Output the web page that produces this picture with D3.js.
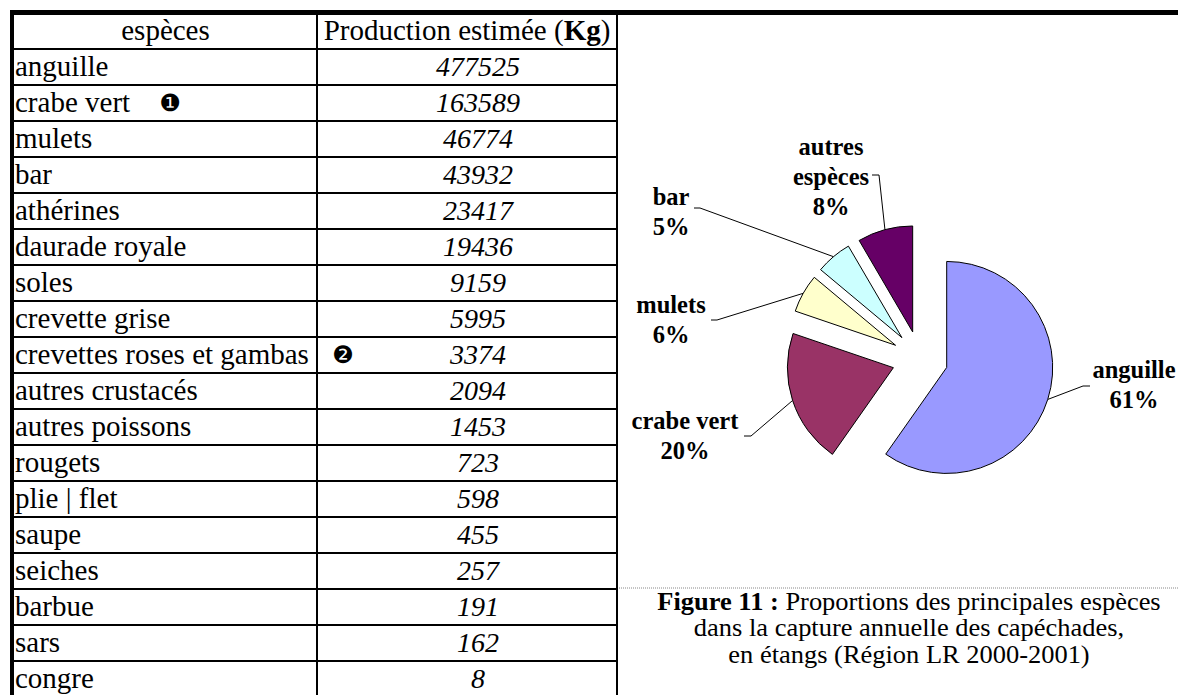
<!DOCTYPE html>
<html>
<head>
<meta charset="utf-8">
<script src="https://cdn.jsdelivr.net/npm/d3@7"></script>
<style>
  body { margin: 0; background: #fff; }
  svg { display: block; }
  text { font-family: "Liberation Serif", "Times New Roman", serif; fill: #000; }
</style>
</head>
<body>
<svg id="fig"></svg>
<script>
// table data
var species = ["anguille", "crabe vert", "mulets", "bar", "athérines", "daurade royale",
    "soles", "crevette grise", "crevettes roses et gambas", "autres crustacés",
    "autres poissons", "rougets", "plie | flet", "saupe", "seiches", "barbue", "sars", "congre"];
var production = [477525, 163589, 46774, 43932, 23417, 19436, 9159, 5995, 3374,
    2094, 1453, 723, 598, 455, 257, 191, 162, 8];
var notes = { "crabe vert": "\u2776", "crevettes roses et gambas": "\u2777" };

// pie: main species, everything else grouped
var pieSpecies = ["anguille", "crabe vert", "mulets", "bar"];
var otherLabel = "autres espèces";
var pieTexts = {
    "anguille": ["anguille", "61%"],
    "crabe vert": ["crabe vert", "20%"],
    "mulets": ["mulets", "6%"],
    "bar": ["bar", "5%"],
    "autres espèces": ["autres", "espèces", "8%"]
};
var pieColors = ["#9999FF", "#993366", "#FFFFCC", "#CCFFFF", "#660066"];

var captionBold = "Figure 11 :";
var captionLines = [" Proportions des principales espèces",
    "dans la capture annuelle des capéchades,",
    "en étangs (Région LR 2000-2001)"];

var W = 1178, H = 695;
var svg = d3.select("#fig").attr("width", W).attr("height", H);

// ---------- table ----------
var tblLeft = 14, col1 = 317, tblRight = 617, headTop = 15, headBottom = 49, rowH = 36;
var y = d3.scaleBand().domain(species).range([headBottom, headBottom + species.length * rowH]);

var tbl = svg.append("g").attr("class", "table");

tbl.append("text").attr("x", (tblLeft + col1) / 2).attr("y", 40)
    .attr("text-anchor", "middle").attr("font-size", 29).text("espèces");
var h2 = tbl.append("text").attr("x", (col1 + tblRight) / 2).attr("y", 40)
    .attr("text-anchor", "middle").attr("font-size", 29);
h2.append("tspan").text("Production estimée (");
h2.append("tspan").attr("font-weight", "bold").text("Kg");
h2.append("tspan").text(")");

var rows = tbl.selectAll("g.row")
    .data(species.map(function (s, i) { return { name: s, value: production[i] }; }))
    .enter().append("g").attr("class", "row");

rows.append("text")
    .attr("x", tblLeft + 1)
    .attr("y", function (d) { return y(d.name) + 27; })
    .attr("font-size", 29)
    .text(function (d) { return d.name; });

rows.append("text")
    .attr("x", 478)
    .attr("y", function (d) { return y(d.name) + 27; })
    .attr("text-anchor", "middle")
    .attr("font-size", 28).attr("font-style", "italic")
    .text(function (d) { return d.value; });

var noteX = { "crabe vert": 170, "crevettes roses et gambas": 343 };
rows.filter(function (d) { return notes[d.name]; })
    .append("text")
    .attr("x", function (d) { return noteX[d.name]; })
    .attr("y", function (d) { return y(d.name) + y.bandwidth() / 2 + 8; })
    .attr("text-anchor", "middle")
    .style("font-family", "DejaVu Sans")
    .attr("font-size", 24)
    .text(function (d) { return notes[d.name]; });

// grid lines
tbl.selectAll("line.hrow")
    .data([headBottom].concat(species.map(function (s) { return y(s) + rowH; })))
    .enter().append("line")
    .attr("x1", tblLeft).attr("x2", tblRight)
    .attr("y1", function (d) { return d; }).attr("y2", function (d) { return d; })
    .attr("stroke", "#000").attr("stroke-width", 2);

[col1, tblRight].forEach(function (x) {
    tbl.append("line").attr("x1", x).attr("x2", x).attr("y1", headTop).attr("y2", H)
        .attr("stroke", "#000").attr("stroke-width", 2);
});
tbl.append("rect").attr("x", 10).attr("y", 10).attr("width", 4).attr("height", H - 10).attr("fill", "#000");
tbl.append("rect").attr("x", 10).attr("y", 10).attr("width", W - 10).attr("height", 5).attr("fill", "#000");

// ---------- pie ----------
var total = d3.sum(production);
var pieData = pieSpecies.map(function (s) { return { name: s, value: production[species.indexOf(s)] }; });
pieData.push({ name: otherLabel, value: total - d3.sum(pieData, function (d) { return d.value; }) });

var cx = 920, cy = 359, R = 106, explode = 28;
var arcs = d3.pie().sort(null).value(function (d) { return d.value; })(pieData);
var arc = d3.arc().innerRadius(0).outerRadius(R);
var color = d3.scaleOrdinal().domain(pieData.map(function (d) { return d.name; })).range(pieColors);

function mid(d) { return (d.startAngle + d.endAngle) / 2; }
function apex(d) {
    var a = mid(d);
    return [cx + explode * Math.sin(a), cy - explode * Math.cos(a)];
}

var pie = svg.append("g").attr("class", "pie");
pie.selectAll("path")
    .data(arcs)
    .enter().append("path")
    .attr("transform", function (d) { return "translate(" + apex(d) + ")"; })
    .attr("d", arc)
    .attr("fill", function (d) { return color(d.data.name); })
    .attr("stroke", "#000").attr("stroke-width", 1);

// label placement (layout only)
var labelPos = {
    "anguille": { x: 1134, y: 378, lead: [[1090, 386], [1083, 386]] },
    "crabe vert": { x: 685, y: 429, lead: [[744, 436], [751, 436]] },
    "mulets": { x: 671, y: 313, lead: [[711, 320], [717, 320]] },
    "bar": { x: 671, y: 205, lead: [[694, 208], [700, 208]] },
    "autres espèces": { x: 831, y: 155, lead: [[872, 175], [879, 175]] }
};

var labels = pie.selectAll("g.lbl").data(arcs).enter().append("g").attr("class", "lbl");
labels.append("polyline")
    .attr("fill", "none").attr("stroke", "#000").attr("stroke-width", 1)
    .attr("points", function (d) {
        var a = mid(d), p = apex(d);
        var end = [p[0] + R * Math.sin(a), p[1] - R * Math.cos(a)];
        return labelPos[d.data.name].lead.concat([end]).join(" ");
    });
labels.append("text")
    .attr("text-anchor", "middle")
    .attr("font-size", 24.5).attr("font-weight", "bold")
    .selectAll("tspan")
    .data(function (d) {
        var p = labelPos[d.data.name];
        return pieTexts[d.data.name].map(function (t, i) { return { t: t, x: p.x, y: p.y + i * 30 }; });
    })
    .enter().append("tspan")
    .attr("x", function (d) { return d.x; })
    .attr("y", function (d) { return d.y; })
    .text(function (d) { return d.t; });

// ---------- caption ----------
svg.append("line").attr("x1", tblRight + 2).attr("x2", W).attr("y1", 588).attr("y2", 588)
    .attr("stroke", "#888").attr("stroke-width", 1).attr("stroke-dasharray", "1,1");

var cap = svg.append("g").attr("transform", "translate(909,0) scale(1.08,1)");
captionLines.forEach(function (line, i) {
    var t = cap.append("text").attr("text-anchor", "middle").attr("font-size", 24.5)
        .attr("x", 0).attr("y", 610 + i * 26.5);
    if (i === 0) {
        t.append("tspan").attr("font-weight", "bold").text(captionBold);
        t.append("tspan").text(line);
    } else {
        t.text(line);
    }
});
</script>
</body>
</html>
